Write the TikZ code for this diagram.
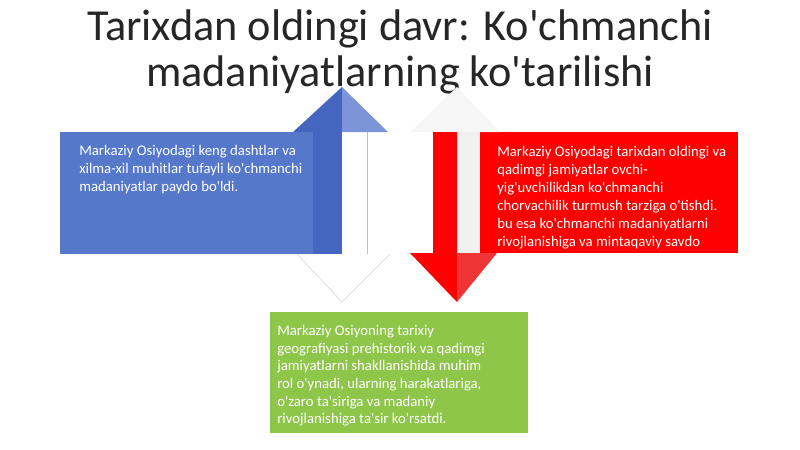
\documentclass[tikz,border=0pt]{standalone}
\usepackage{fontspec}
\setmainfont{Carlito}[Ligatures=TeXOff]
\usetikzlibrary{positioning}

\definecolor{titlegray}{RGB}{38,38,38}
\definecolor{boxblue}{RGB}{86,120,203}
\definecolor{shaftblue}{RGB}{68,102,192}
\definecolor{headblue}{RGB}{124,148,216}
\definecolor{headred}{RGB}{238,52,52}
\definecolor{boxgreen}{RGB}{141,198,73}

\begin{document}
\begin{tikzpicture}[
    panel/.style={rectangle, inner sep=0pt, anchor=north west, minimum width=6.45cm, minimum height=3.025cm},
    paneltext/.style={inner sep=0pt, align=left, text=white, font=\fontsize{10.5}{12.8}\selectfont},
    heading/.style={align=center, text=titlegray, font=\fontsize{31.5}{32.5}\selectfont}
]
    \useasboundingbox (0,0) rectangle (20,-11.225);

    % Title
    \node[heading, anchor=north] (title) at (10,-0.12) {Tarixdan oldingi davr: Ko'chmanchi\\madaniyatlarning ko'tarilishi};

    % Panels
    \node[panel, fill=boxblue, minimum width=7.05cm, minimum height=3.05cm] (bluebox) at (1.5,-3.3) {};
    \node[panel, fill=red] (redbox) at (12,-3.3) {};
    \node[panel, fill=boxgreen] (greenbox) at (6.75,-7.8) {};

    % Up arrow (blue)
    \fill[shaftblue] (7.825,-3.3) rectangle (8.55,-6.35);
    \fill[shaftblue] (7.325,-3.3) -- (8.55,-2.175) -- (8.55,-3.3) -- cycle;
    \fill[headblue] (8.55,-2.175) -- (9.7,-3.3) -- (8.55,-3.3) -- cycle;
    \draw[gray!35] (7.425,-6.35) -- (8.55,-7.55) -- (9.75,-6.35);
    \draw[gray!50] (9.175,-3.3) -- (9.175,-6.35);

    % Down arrow (red)
    \fill[gray!7] (10.25,-3.3) -- (11.425,-2.175) -- (12.5,-3.3) -- cycle;
    \fill[red] (10.825,-3.3) rectangle (11.425,-6.325);
    \fill[gray!12] (11.425,-3.3) rectangle (12,-6.325);
    \fill[red] (10.25,-6.325) -- (11.425,-7.55) -- (11.425,-6.325) -- cycle;
    \fill[headred] (11.425,-6.325) -- (11.425,-7.55) -- (12.425,-6.325) -- cycle;

    % Texts
    \node[paneltext, below right=0.33cm and 0.475cm of bluebox.north west] (bluetext) {Markaziy Osiyodagi keng dashtlar va\\xilma-xil muhitlar tufayli ko'chmanchi\\madaniyatlar paydo bo'ldi.};
    \node[paneltext, below right=0.36cm and 0.425cm of redbox.north west] (redtext) {Markaziy Osiyodagi tarixdan oldingi va\\qadimgi jamiyatlar ovchi-\\yig'uvchilikdan ko'chmanchi\\chorvachilik turmush tarziga o'tishdi.\\bu esa ko'chmanchi madaniyatlarni\\rivojlanishiga va mintaqaviy savdo};
    \node[paneltext, below right=0.33cm and 0.175cm of greenbox.north west, font=\fontsize{10.5}{12.5}\selectfont] (greentext) {Markaziy Osiyoning tarixiy\\geografiyasi prehistorik va qadimgi\\jamiyatlarni shakllanishida muhim\\rol o'ynadi, ularning harakatlariga,\\o'zaro ta'siriga va madaniy\\rivojlanishiga ta'sir ko'rsatdi.};

\end{tikzpicture}
\end{document}
